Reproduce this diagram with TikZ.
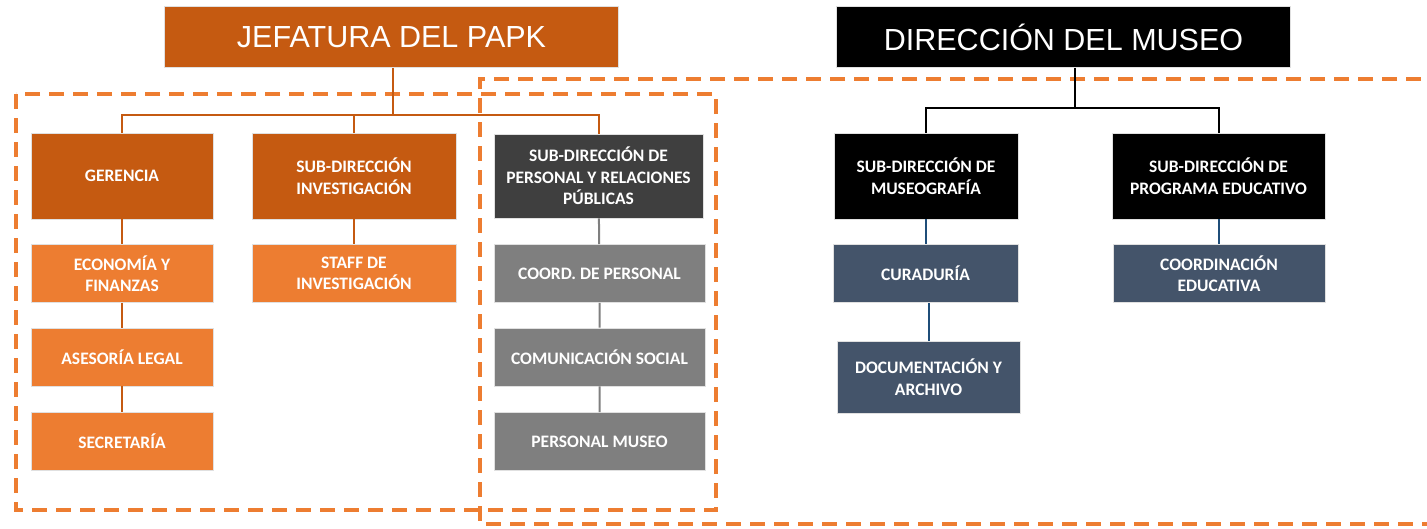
\documentclass[tikz,border=0pt]{standalone}
\usepackage{fontspec}
\setmainfont{Carlito}
\newfontfamily\titlefont{Liberation Sans}
\usepackage{tikz}
\usetikzlibrary{positioning, calc}
\definecolor{papkdark}{HTML}{C55A11}
\definecolor{papkorange}{HTML}{ED7D31}
\definecolor{persdark}{HTML}{3F3F3F}
\definecolor{persgray}{HTML}{7F7F7F}
\definecolor{museoblue}{HTML}{44546A}
\definecolor{museoline}{HTML}{1F4E79}

\tikzset{
  unit/.style={draw=black!12, line width=0.6pt, text=white, align=center, inner sep=1pt,
    font=\fontsize{17.5}{21.5}\selectfont\bfseries},
  headbox/.style={unit, minimum width=454pt, minimum height=61pt,
    font=\titlefont\fontsize{30.5}{35}\selectfont},
  subbox/.style={unit, minimum height=86pt},
  leafbox/.style={unit, minimum height=58pt},
  frame/.style={draw=papkorange, line width=4pt, dash pattern=on 15pt off 9pt},
  papkline/.style={draw=papkdark, line width=2pt},
  persline/.style={draw=persgray, line width=2pt},
  museoconn/.style={draw=black, line width=2pt},
  blueline/.style={draw=museoline, line width=2pt},
}

\begin{document}
\begin{tikzpicture}[x=1pt, y=-1pt]
  \useasboundingbox (0,0) rectangle (1427,528);

  % dashed frames
  \draw[frame] (16,94) rectangle (716,510);
  \draw[frame] (1445,79) -- (480,79) -- (480,524) -- (1445,524);

  % heads
  \node[headbox, fill=papkdark] (jefatura) at (391.5,37) {JEFATURA DEL PAPK};
  \node[headbox, fill=black] (direccion) at (1063.5,37) {DIRECCIÓN DEL MUSEO};

  % papk side
  \node[subbox, fill=papkdark, minimum width=182pt] (gerencia) at (122,176) {GERENCIA};
  \node[subbox, fill=papkdark, minimum width=204pt] (subinv) at (354,176) {SUB-DIRECCIÓN\\INVESTIGACIÓN};
  \node[subbox, fill=persdark, minimum width=209pt, minimum height=84pt] (subpers) at (598.5,176)
    {SUB-DIRECCIÓN DE\\PERSONAL Y RELACIONES\\PÚBLICAS};
  \node[leafbox, fill=papkorange, minimum width=182pt] (economia) at (122,273.5) {ECONOMÍA Y\\FINANZAS};
  \node[leafbox, fill=papkorange, minimum width=182pt] (asesoria) at (122,357) {ASESORÍA LEGAL};
  \node[leafbox, fill=papkorange, minimum width=182pt] (secretaria) at (122,441.5) {SECRETARÍA};
  \node[leafbox, fill=papkorange, minimum width=204pt] (staff) at (354,273.5) {STAFF DE\\INVESTIGACIÓN};
  \node[leafbox, fill=persgray, minimum width=211pt] (coordpers) at (599.5,273.5) {COORD. DE PERSONAL};
  \node[leafbox, fill=persgray, minimum width=211pt] (comunic) at (599.5,357) {COMUNICACIÓN SOCIAL};
  \node[leafbox, fill=persgray, minimum width=211pt] (persmuseo) at (599.5,441.5) {PERSONAL MUSEO};

  % museo side
  \node[subbox, fill=black, minimum width=184pt] (submuseo) at (926,176) {SUB-DIRECCIÓN DE\\MUSEOGRAFÍA};
  \node[subbox, fill=black, minimum width=213pt] (subprog) at (1218.5,176) {SUB-DIRECCIÓN DE\\PROGRAMA EDUCATIVO};
  \node[leafbox, fill=museoblue, minimum width=185pt] (curaduria) at (925.5,273.5) {CURADURÍA};
  \node[leafbox, fill=museoblue, minimum width=212pt] (coordedu) at (1219,273.5) {COORDINACIÓN\\EDUCATIVA};
  \node[unit, fill=museoblue, minimum width=183pt, minimum height=72pt] (document) at (928.5,377)
    {DOCUMENTACIÓN Y\\ARCHIVO};

  % connectors
  \coordinate (jbus) at (393,115);
  \coordinate (mbus) at (1075,108);
  \draw[papkline] (jefatura.south -| jbus) -- (jbus);
  \draw[papkline] (gerencia.north) |- (subpers.north |- jbus) -- (subpers.north);
  \draw[papkline] (subinv.north) -- (subinv.north |- jbus);
  \draw[papkline] (gerencia) -- (economia) -- (asesoria) -- (secretaria);
  \draw[papkline] (subinv) -- (staff);
  \draw[persline] (subpers) -- (coordpers) -- (comunic) -- (persmuseo);
  \draw[museoconn] (direccion.south -| mbus) -- (mbus);
  \draw[museoconn] (submuseo.north) |- (subprog.north |- mbus) -- (subprog.north);
  \draw[blueline] (submuseo.south) -- (curaduria.north -| submuseo.south);
  \draw[blueline] (subprog.south) -- (coordedu.north -| subprog.south);
  \draw[blueline] (document.north) -- (curaduria.south -| document.north);
\end{tikzpicture}
\end{document}
